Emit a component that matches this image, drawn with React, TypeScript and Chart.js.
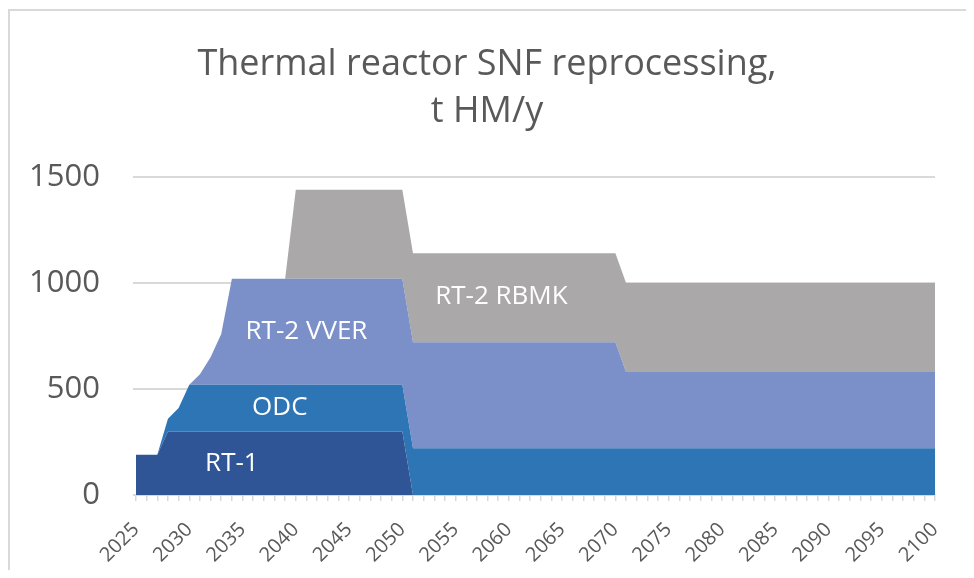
import React, { useEffect, useRef } from "react";
import { Chart, registerables } from "chart.js";

Chart.register(...registerables);

const years: string[] = [
  "2025", "2026", "2027", "2028", "2029", "2030", "2031", "2032", "2033", "2034",
  "2035", "2036", "2037", "2038", "2039", "2040", "2041", "2042", "2043", "2044",
  "2045", "2046", "2047", "2048", "2049", "2050", "2051", "2052", "2053", "2054",
  "2055", "2056", "2057", "2058", "2059", "2060", "2061", "2062", "2063", "2064",
  "2065", "2066", "2067", "2068", "2069", "2070", "2071", "2072", "2073", "2074",
  "2075", "2076", "2077", "2078", "2079", "2080", "2081", "2082", "2083", "2084",
  "2085", "2086", "2087", "2088", "2089", "2090", "2091", "2092", "2093", "2094",
  "2095", "2096", "2097", "2098", "2099", "2100",
];

// t HM/y, one value per year 2025..2100
const rt1: number[] = [
  190, 190, 190, 300, 300, 300, 300, 300, 300, 300,
  300, 300, 300, 300, 300, 300, 300, 300, 300, 300,
  300, 300, 300, 300, 300, 300, 0, 0, 0, 0,
  0, 0, 0, 0, 0, 0, 0, 0, 0, 0,
  0, 0, 0, 0, 0, 0, 0, 0, 0, 0,
  0, 0, 0, 0, 0, 0, 0, 0, 0, 0,
  0, 0, 0, 0, 0, 0, 0, 0, 0, 0,
  0, 0, 0, 0, 0, 0,
];
const odc: number[] = [
  0, 0, 0, 60, 110, 220, 220, 220, 220, 220,
  220, 220, 220, 220, 220, 220, 220, 220, 220, 220,
  220, 220, 220, 220, 220, 220, 220, 220, 220, 220,
  220, 220, 220, 220, 220, 220, 220, 220, 220, 220,
  220, 220, 220, 220, 220, 220, 220, 220, 220, 220,
  220, 220, 220, 220, 220, 220, 220, 220, 220, 220,
  220, 220, 220, 220, 220, 220, 220, 220, 220, 220,
  220, 220, 220, 220, 220, 220,
];
const rt2Vver: number[] = [
  0, 0, 0, 0, 0, 0, 50, 130, 240, 500,
  500, 500, 500, 500, 500, 500, 500, 500, 500, 500,
  500, 500, 500, 500, 500, 500, 500, 500, 500, 500,
  500, 500, 500, 500, 500, 500, 500, 500, 500, 500,
  500, 500, 500, 500, 500, 500, 360, 360, 360, 360,
  360, 360, 360, 360, 360, 360, 360, 360, 360, 360,
  360, 360, 360, 360, 360, 360, 360, 360, 360, 360,
  360, 360, 360, 360, 360, 360,
];
const rt2Rbmk: number[] = [
  0, 0, 0, 0, 0, 0, 0, 0, 0, 0,
  0, 0, 0, 0, 0, 420, 420, 420, 420, 420,
  420, 420, 420, 420, 420, 420, 420, 420, 420, 420,
  420, 420, 420, 420, 420, 420, 420, 420, 420, 420,
  420, 420, 420, 420, 420, 420, 420, 420, 420, 420,
  420, 420, 420, 420, 420, 420, 420, 420, 420, 420,
  420, 420, 420, 420, 420, 420, 420, 420, 420, 420,
  420, 420, 420, 420, 420, 420,
];

const seriesNames: string[] = ["RT-1", "ODC", "RT-2 VVER", "RT-2 RBMK"];
const seriesColors: string[] = ["#2F5597", "#2E75B6", "#7B90C8", "#AAA8A8"];
// in-chart label anchors (year, value)
const labelYears: number[] = [2034, 2038.5, 2041, 2059.3];
const labelValues: number[] = [150, 410, 770, 935];

const yTicks: number[] = [0, 500, 1000, 1500];
const titleLines: string[] = ["Thermal reactor SNF reprocessing,", "t HM/y"];

const FONT = "'Open Sans', sans-serif";

export default function App() {
  const ref = useRef<HTMLCanvasElement | null>(null);

  useEffect(() => {
    if (!ref.current) return;
    const values = [rt1, odc, rt2Vver, rt2Rbmk];

    const decorPlugin = {
      id: "decor",
      beforeDraw(chart: any) {
        const ctx = chart.ctx;
        ctx.save();
        ctx.fillStyle = "#ffffff";
        ctx.fillRect(0, 0, chart.width, chart.height);
        ctx.fillStyle = "#d9d9d9";
        ctx.fillRect(0, 1, 2, chart.height);
        ctx.fillRect(0, 1, chart.width, 2);
        ctx.fillStyle = "#595959";
        ctx.font = `36px ${FONT}`;
        ctx.textAlign = "center";
        ctx.textBaseline = "alphabetic";
        ctx.fillText(titleLines[0], chart.width / 2, 67);
        ctx.fillText(titleLines[1], chart.width / 2, 114);
        ctx.restore();
      },
      afterDatasetsDraw(chart: any) {
        const ctx = chart.ctx;
        const xs = chart.scales.x;
        const ys = chart.scales.y;
        ctx.save();
        ctx.fillStyle = "#ffffff";
        ctx.font = `26px ${FONT}`;
        ctx.textAlign = "center";
        ctx.textBaseline = "middle";
        seriesNames.forEach((name, i) => {
          const px = xs.getPixelForValue(labelYears[i] - Number(years[0]));
          const py = ys.getPixelForValue(labelValues[i]);
          ctx.fillText(name, px, py);
        });
        ctx.restore();
      },
    };

    const chart = new Chart(ref.current, {
      type: "line",
      data: {
        labels: years,
        datasets: seriesNames.map((name, i) => ({
          label: name,
          data: values[i],
          backgroundColor: seriesColors[i],
          borderColor: seriesColors[i],
          borderWidth: 0,
          pointRadius: 0,
          pointHoverRadius: 0,
          tension: 0,
          fill: i === 0 ? "origin" : "-1",
        })),
      },
      options: {
        animation: false,
        responsive: false,
        maintainAspectRatio: false,
        events: [],
        layout: { padding: { top: 169, right: 31, left: 0, bottom: 0 } },
        plugins: {
          legend: { display: false },
          title: { display: false },
          tooltip: { enabled: false },
        },
        scales: {
          x: {
            type: "category",
            offset: false,
            grid: {
              drawOnChartArea: false,
              drawTicks: true,
              tickLength: 6,
              color: "#d9d9d9",
              lineWidth: 1.5,
            },
            border: { display: true, color: "#d9d9d9", width: 2 },
            ticks: {
              autoSkip: false,
              maxRotation: 45,
              minRotation: 45,
              padding: 17,
              color: "#595959",
              font: { family: FONT, size: 20 },
              callback: (_v: any, idx: number) =>
                Number(years[idx]) % 5 === 0 ? years[idx] : "",
            },
            afterFit: (s: any) => {
              s.height = 75;
              s.paddingLeft = 0;
              s.paddingRight = 0;
            },
          },
          y: {
            stacked: true,
            min: 0,
            max: 1500,
            afterBuildTicks: (s: any) => {
              s.ticks = yTicks.map((v) => ({ value: v }));
            },
            grid: {
              color: "#d9d9d9",
              lineWidth: 2,
              tickLength: 3,
              drawTicks: true,
            },
            border: { display: false },
            ticks: {
              padding: 33,
              color: "#595959",
              font: { family: FONT, size: 31 },
              callback: (v: any) => String(v),
            },
            afterFit: (s: any) => {
              s.width = 128;
            },
          },
        },
      },
      plugins: [decorPlugin],
    });
    return () => chart.destroy();
  }, []);

  return (
    <div style={{ width: 958, height: 562 }}>
      <canvas ref={ref} width={958} height={562} style={{ display: "block", width: 958, height: 562 }} />
    </div>
  );
}
